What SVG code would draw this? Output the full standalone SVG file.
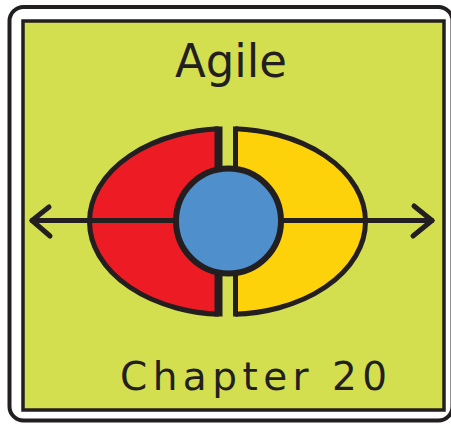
<svg xmlns="http://www.w3.org/2000/svg" width="451" height="425" viewBox="0 0 451 425">
  <defs>
    <clipPath id="clipL"><rect x="0" y="0" width="218.5" height="425"/></clipPath>
    <clipPath id="clipR"><rect x="235.5" y="0" width="220" height="425"/></clipPath>
  </defs>
  <style>
    .ink { stroke: #231f20; fill: none; stroke-linecap: round; stroke-linejoin: round; }
    .half { stroke: #231f20; stroke-width: 5; }
    .label { font-family: "DejaVu Sans", "Liberation Sans", sans-serif; fill: #231f20; }
  </style>
  <rect width="451" height="425" fill="#ffffff"/>
  <g id="frame">
    <rect x="9.5" y="7" width="443" height="413.5" rx="14" ry="14" fill="#ffffff" stroke="#231f20" stroke-width="4"/>
    <rect x="23" y="21" width="421" height="389" fill="#d3df4e" stroke="#231f20" stroke-width="3.5"/>
  </g>
  <g id="title">
    <text class="label" x="231" y="77" font-size="47" text-anchor="middle" textLength="112" lengthAdjust="spacingAndGlyphs">Agile</text>
  </g>
  <g id="left-half">
    <ellipse class="half" cx="227.5" cy="221.5" rx="138" ry="93" fill="#ed1c24" clip-path="url(#clipL)"/>
    <line x1="218.5" y1="126.5" x2="218.5" y2="316.5" stroke="#231f20" stroke-width="8"/>
  </g>
  <g id="right-half">
    <ellipse class="half" cx="227.5" cy="221.5" rx="138" ry="93" fill="#fdd20a" clip-path="url(#clipR)"/>
    <line x1="235.5" y1="126.5" x2="235.5" y2="316.5" stroke="#231f20" stroke-width="5"/>
  </g>
  <g id="connectors">
    <line class="ink" x1="32" y1="220.5" x2="432" y2="220.5" stroke-width="5"/>
    <polyline class="ink" points="49,207 32,220.5 50,236" stroke-width="5"/>
    <polyline class="ink" points="414,206 432,220.5 413,236" stroke-width="5"/>
  </g>
  <g id="center">
    <circle cx="228.5" cy="221" r="52.5" fill="#4f8fcb" stroke="#231f20" stroke-width="6"/>
  </g>
  <g id="subtitle">
    <text class="label" x="120" y="390" font-size="39" textLength="267" lengthAdjust="spacing">Chapter 20</text>
  </g>
</svg>
